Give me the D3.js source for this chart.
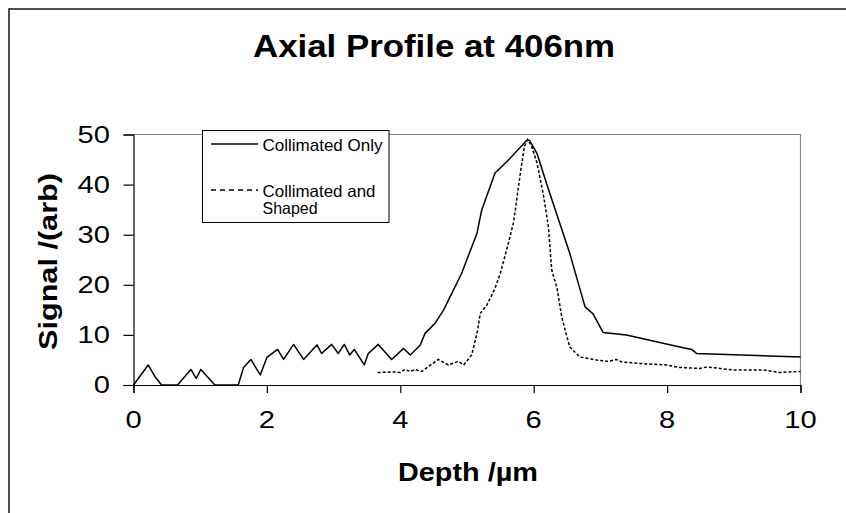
<!DOCTYPE html>
<html><head><meta charset="utf-8">
<script src="https://cdn.jsdelivr.net/npm/d3@7"></script>
<style>body{margin:0;background:#fff}svg{display:block}</style>
</head><body>
<script>
const title = "Axial Profile at 406nm";
const xLabel = "Depth /µm";
const yLabel = "Signal /(arb)";
const seriesNames = ["Collimated Only", "Collimated and Shaped"];
const xTicks = [0, 2, 4, 6, 8, 10];
const yTicks = [0, 10, 20, 30, 40, 50];

const onlyX = [0,0.22,0.32,0.42,0.66,0.86,0.94,1.01,1.22,1.57,1.65,1.76,1.90,2.0,2.16,2.25,2.40,2.55,2.75,2.82,2.97,3.07,3.16,3.24,3.31,3.46,3.52,3.67,3.87,4.05,4.15,4.30,4.37,4.52,4.65,4.92,5.15,5.22,5.42,5.60,5.90,5.94,6.05,6.20,6.54,6.77,6.89,7.04,7.39,8.19,8.37,8.44,10.0];
const onlyY = [0,4.0,1.7,0,0,3.1,1.3,3.1,0,0,3.5,5.1,2.0,5.5,7.1,5.1,8.1,5.1,8.0,6.3,8.1,6.3,8.1,6.0,7.1,4.0,6.3,8.1,5.1,7.3,6.0,8.0,10.3,12.3,15.0,22.3,30.3,34.9,42.3,44.6,48.9,48.8,46.2,39.9,26.3,15.6,14.2,10.5,10.0,7.6,7.1,6.3,5.6];

const shapedX = [3.66,3.9,4.0,4.07,4.15,4.22,4.32,4.57,4.72,4.87,4.95,5.07,5.15,5.20,5.30,5.42,5.50,5.62,5.70,5.80,5.86,5.91,5.97,6.05,6.15,6.22,6.27,6.35,6.42,6.47,6.54,6.69,6.94,7.12,7.24,7.32,7.69,7.99,8.19,8.49,8.6,8.99,9.44,9.69,9.8,10.0];
const shapedY = [2.5,2.6,2.5,3.1,2.7,3.1,2.7,5.1,4.0,4.7,4.0,6.0,10.3,14.3,16.0,19.3,22.3,28.3,32.6,42.3,47.6,49.0,47.6,44.3,37.6,31.6,23.0,19.3,13.6,11.0,7.6,5.6,5.0,4.7,5.1,4.6,4.2,4.0,3.5,3.3,3.6,3.0,3.0,2.5,2.6,2.7];

(function(){
const W = 846, H = 513;
const pL = 133.5, pR = 800.5, pT = 134.5, pB = 385;
const svg = d3.select("body").append("svg").attr("width", W).attr("height", H);
svg.append("rect").attr("x",0).attr("y",0).attr("width",W).attr("height",H).attr("fill","#fff");
svg.append("rect").attr("x",9).attr("y",9).attr("width",900).attr("height",600)
  .attr("fill","none").attr("stroke","#222").attr("stroke-width",1.6);

const x = d3.scaleLinear().domain([0,10]).range([pL,pR]);
const y = d3.scaleLinear().domain([0,50]).range([pB,pT]);

svg.append("path").attr("d", `M${pL},${pT}H${pR}V${pB}`).attr("fill","none").attr("stroke","#888").attr("stroke-width",1.2);

const font = "Arial, 'Liberation Sans', Helvetica, sans-serif";

const xAxis = d3.axisBottom(x).tickValues(xTicks).tickSize(8).tickFormat("");
const gx = svg.append("g").attr("transform",`translate(0,${pB})`).call(xAxis);
const yAxis = d3.axisLeft(y).tickValues(yTicks).tickSize(10).tickFormat("");
const gy = svg.append("g").attr("transform",`translate(${pL},0)`).call(yAxis);
[gx, gy].forEach(g => { g.selectAll("path,line").attr("stroke","#000").attr("stroke-width",1.2); });

svg.selectAll(".xl").data(xTicks).enter().append("text")
  .attr("x", d => x(d)).attr("y", 427.5).attr("text-anchor","middle")
  .attr("font-family",font).attr("font-size",23)
  .attr("textLength", d => String(d).length*16.2).attr("lengthAdjust","spacingAndGlyphs")
  .text(d => d);
svg.selectAll(".yl").data(yTicks).enter().append("text")
  .attr("x", 110).attr("y", d => y(d)+8).attr("text-anchor","end")
  .attr("font-family",font).attr("font-size",23)
  .attr("textLength", d => String(d).length*16.2).attr("lengthAdjust","spacingAndGlyphs")
  .text(d => d);

svg.append("text").attr("x",434).attr("y",57).attr("text-anchor","middle")
  .attr("font-family",font).attr("font-weight","bold").attr("font-size",31)
  .attr("textLength",362).attr("lengthAdjust","spacingAndGlyphs").text(title);
svg.append("text").attr("x",468).attr("y",481).attr("text-anchor","middle")
  .attr("font-family",font).attr("font-weight","bold").attr("font-size",26)
  .attr("textLength",140).attr("lengthAdjust","spacingAndGlyphs").text(xLabel);
svg.append("text").attr("transform","translate(57,261.5) rotate(-90)").attr("text-anchor","middle")
  .attr("font-family",font).attr("font-weight","bold").attr("font-size",26)
  .attr("textLength",177).attr("lengthAdjust","spacingAndGlyphs").text(yLabel);

const line = d3.line().x(d => x(d[0])).y(d => y(d[1]));
const only = onlyX.map((v,i) => [v, onlyY[i]]);
const shaped = shapedX.map((v,i) => [v, shapedY[i]]);
svg.append("path").datum(only).attr("d", line).attr("fill","none").attr("stroke","#000").attr("stroke-width",1.5).attr("stroke-linejoin","round");
svg.append("path").datum(shaped).attr("d", line).attr("fill","none").attr("stroke","#000").attr("stroke-width",1.5).attr("stroke-dasharray","3,2");

const lg = svg.append("g");
lg.append("rect").attr("x",202.5).attr("y",130.5).attr("width",186.5).attr("height",92)
  .attr("fill","#fff").attr("stroke","#000").attr("stroke-width",1);
lg.append("line").attr("x1",211).attr("x2",258).attr("y1",144).attr("y2",144).attr("stroke","#000").attr("stroke-width",1.5);
lg.append("line").attr("x1",211).attr("x2",258).attr("y1",190).attr("y2",190).attr("stroke","#000").attr("stroke-width",1.5).attr("stroke-dasharray","5,4");
lg.append("text").attr("x",262.5).attr("y",150.5).attr("font-family",font).attr("font-size",17).text(seriesNames[0]);
lg.append("text").attr("x",262.5).attr("y",196.5).attr("font-family",font).attr("font-size",16.5)
  .attr("textLength",113).attr("lengthAdjust","spacingAndGlyphs").text("Collimated and");
lg.append("text").attr("x",262.5).attr("y",214).attr("font-family",font).attr("font-size",16.5)
  .attr("textLength",55).attr("lengthAdjust","spacingAndGlyphs").text("Shaped");
})();
</script>
</body></html>
